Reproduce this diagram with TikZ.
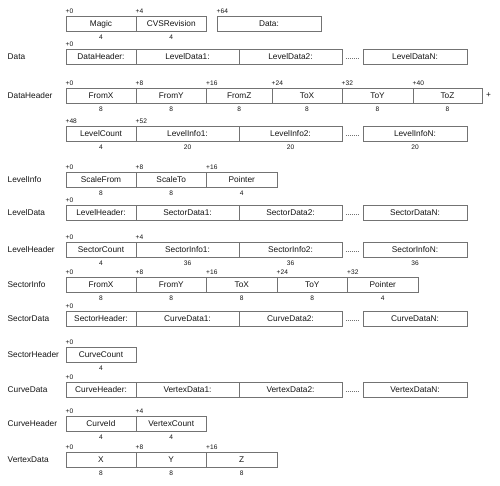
\documentclass[tikz,border=0pt]{standalone}
\usepackage{fontspec}
\setmainfont{Liberation Sans}
\definecolor{txtc}{RGB}{20,20,20}
\definecolor{brd}{RGB}{115,115,115}
\tikzset{
  fld/.style={draw=brd, line width=0.95pt, rectangle, minimum height=15pt, inner sep=0pt,
    text=txtc, font=\fontsize{8.3}{9}\selectfont},
  oflbl/.style={inner sep=0pt, text=txtc, font=\fontsize{6.6}{7}\selectfont, anchor=base west},
  szlbl/.style={inner sep=0pt, text=txtc, font=\fontsize{6.6}{7}\selectfont, anchor=base},
  rowlbl/.style={inner sep=0pt, text=txtc, font=\fontsize{8.3}{9}\selectfont, anchor=west},
  dts/.style={draw=brd, line width=0.8pt, dash pattern=on 0.9pt off 1.1pt}
}
\newcommand{\fld}[5]{\node[fld,minimum width={#3-#2}] (#1) at ({(#2+#3)/2},{#4+7.5}) {#5};}
\newcommand{\ofl}[2]{\node[oflbl] (#1-o) at ([yshift=2.2pt]#1.north west) {#2};}
\newcommand{\szl}[2]{\node[szlbl] (#1-s) at ([yshift=-7.9pt]#1.south) {#2};}
\newcommand{\dts}[2]{\draw[dts] ([xshift=3.5pt,yshift=-2pt]#1.east) -- ([xshift=-3.5pt,yshift=-2pt]#2.west);}
\newcommand{\rl}[3]{\node[rowlbl] (#1) at (7.5,{#2+7.5}) {#3};}
\begin{document}
\begin{tikzpicture}[x=1pt,y=-1pt]
\useasboundingbox (0,0) rectangle (500,485);
% top row
\fld{magic}{66}{136}{16.5}{Magic}
\fld{cvs}{136}{206.5}{16.5}{CVSRevision}
\fld{data}{217}{321}{16.5}{Data:}
\ofl{magic}{+0}\ofl{cvs}{+4}\ofl{data}{+64}
\szl{magic}{4}\szl{cvs}{4}
% Data
\rl{lData}{49}{Data}
\fld{dh}{66}{136}{49}{DataHeader:}
\fld{ld1}{136}{239}{49}{LevelData1:}
\fld{ld2}{239}{342}{49}{LevelData2:}
\fld{ldn}{363}{467}{49}{LevelDataN:}
\ofl{dh}{+0}
\dts{ld2}{ldn}
% DataHeader
\rl{lDataHeader}{88}{DataHeader}
\fld{dhfx}{66}{136}{88}{FromX}
\fld{dhfy}{136}{206.5}{88}{FromY}
\fld{dhfz}{206.5}{272}{88}{FromZ}
\fld{dhtx}{272}{342}{88}{ToX}
\fld{dhty}{342}{413}{88}{ToY}
\fld{dhtz}{413}{482}{88}{ToZ}
\ofl{dhfx}{+0}\ofl{dhfy}{+8}\ofl{dhfz}{+16}\ofl{dhtx}{+24}\ofl{dhty}{+32}\ofl{dhtz}{+40}
\szl{dhfx}{8}\szl{dhfy}{8}\szl{dhfz}{8}\szl{dhtx}{8}\szl{dhty}{8}\szl{dhtz}{8}
\node[rowlbl] (plus) at ([xshift=3.5pt]dhtz.east) {+};
\fld{lc}{66}{136}{126}{LevelCount}
\fld{li1}{136}{239}{126}{LevelInfo1:}
\fld{li2}{239}{342}{126}{LevelInfo2:}
\fld{lin}{363}{467}{126}{LevelInfoN:}
\ofl{lc}{+48}\ofl{li1}{+52}
\szl{lc}{4}\szl{li1}{20}\szl{li2}{20}\szl{lin}{20}
\dts{li2}{lin}
% LevelInfo
\rl{lLevelInfo}{172}{LevelInfo}
\fld{sf}{66}{136}{172}{ScaleFrom}
\fld{st}{136}{206.5}{172}{ScaleTo}
\fld{lip}{206.5}{277}{172}{Pointer}
\ofl{sf}{+0}\ofl{st}{+8}\ofl{lip}{+16}
\szl{sf}{8}\szl{st}{8}\szl{lip}{4}
% LevelData
\rl{lLevelData}{205}{LevelData}
\fld{lh}{66}{136}{205}{LevelHeader:}
\fld{sd1}{136}{239}{205}{SectorData1:}
\fld{sd2}{239}{342}{205}{SectorData2:}
\fld{sdn}{363}{467}{205}{SectorDataN:}
\ofl{lh}{+0}
\dts{sd2}{sdn}
% LevelHeader
\rl{lLevelHeader}{242}{LevelHeader}
\fld{sc}{66}{136}{242}{SectorCount}
\fld{si1}{136}{239}{242}{SectorInfo1:}
\fld{si2}{239}{342}{242}{SectorInfo2:}
\fld{sin}{363}{467}{242}{SectorInfoN:}
\ofl{sc}{+0}\ofl{si1}{+4}
\szl{sc}{4}\szl{si1}{36}\szl{si2}{36}\szl{sin}{36}
\dts{si2}{sin}
% SectorInfo
\rl{lSectorInfo}{277}{SectorInfo}
\fld{sifx}{66}{136}{277}{FromX}
\fld{sify}{136}{206.5}{277}{FromY}
\fld{sitx}{206.5}{277}{277}{ToX}
\fld{sity}{277}{347.5}{277}{ToY}
\fld{sip}{347.5}{418}{277}{Pointer}
\ofl{sifx}{+0}\ofl{sify}{+8}\ofl{sitx}{+16}\ofl{sity}{+24}\ofl{sip}{+32}
\szl{sifx}{8}\szl{sify}{8}\szl{sitx}{8}\szl{sity}{8}\szl{sip}{4}
% SectorData
\rl{lSectorData}{311}{SectorData}
\fld{sh}{66}{136}{311}{SectorHeader:}
\fld{cd1}{136}{239}{311}{CurveData1:}
\fld{cd2}{239}{342}{311}{CurveData2:}
\fld{cdn}{363}{467}{311}{CurveDataN:}
\ofl{sh}{+0}
\dts{cd2}{cdn}
% SectorHeader
\rl{lSectorHeader}{347}{SectorHeader}
\fld{cc}{66}{136}{347}{CurveCount}
\ofl{cc}{+0}\szl{cc}{4}
% CurveData
\rl{lCurveData}{382}{CurveData}
\fld{ch}{66}{136}{382}{CurveHeader:}
\fld{vd1}{136}{239}{382}{VertexData1:}
\fld{vd2}{239}{342}{382}{VertexData2:}
\fld{vdn}{363}{467}{382}{VertexDataN:}
\ofl{ch}{+0}
\dts{vd2}{vdn}
% CurveHeader
\rl{lCurveHeader}{416}{CurveHeader}
\fld{cid}{66}{136}{416}{CurveId}
\fld{vc}{136}{206.5}{416}{VertexCount}
\ofl{cid}{+0}\ofl{vc}{+4}
\szl{cid}{4}\szl{vc}{4}
% VertexData
\rl{lVertexData}{452}{VertexData}
\fld{vx}{66}{136}{452}{X}
\fld{vy}{136}{206.5}{452}{Y}
\fld{vz}{206.5}{277}{452}{Z}
\ofl{vx}{+0}\ofl{vy}{+8}\ofl{vz}{+16}
\szl{vx}{8}\szl{vy}{8}\szl{vz}{8}
\end{tikzpicture}
\end{document}
